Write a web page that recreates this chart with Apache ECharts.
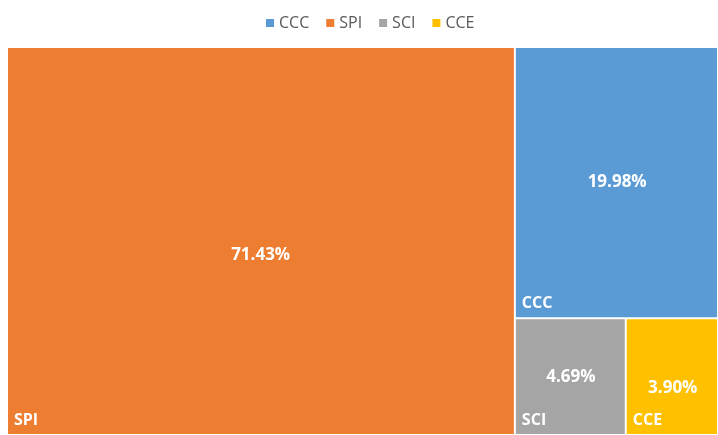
<!DOCTYPE html>
<html>
<head>
<meta charset="utf-8">
<script src="https://cdn.jsdelivr.net/npm/echarts@6/dist/echarts.min.js"></script>
<style>
  html, body { margin: 0; padding: 0; background: #fff; }
  #main { width: 718px; height: 435px; }
</style>
</head>
<body>
<div id="main"></div>
<script>
var names = ['CCC', 'SPI', 'SCI', 'CCE'];
var values = [19.98, 71.43, 4.69, 3.90];
var colors = ['#5B9BD5', '#ED7D31', '#A5A5A5', '#FFC000'];

var myChart = echarts.init(document.getElementById('main'));

var labelFont = 'Open Sans, Noto Sans, sans-serif';

var base = {
    type: 'treemap',
    left: 6,
    top: 46,
    right: -1,
    bottom: -1,
    roam: false,
    nodeClick: false,
    breadcrumb: { show: false },
    squareRatio: 1,
    animation: false
};

// value labels sit a bit low in the original for SPI and CCE
var valueOffset = { SPI: [0, 14], CCE: [0, 11] };

var option = {
    legend: {
        top: 10,
        left: 261,
        icon: 'rect',
        itemWidth: 8,
        itemHeight: 8,
        itemGap: 17,
        data: names,
        textStyle: { color: '#595959', fontSize: 16, fontFamily: labelFont }
    },
    series: [
        Object.assign({}, base, {
            data: names.map(function (n, i) {
                return { name: n, value: values[i], itemStyle: { color: colors[i] } };
            }),
            itemStyle: { borderColor: '#fff', borderWidth: 1, gapWidth: 0 },
            label: {
                show: true,
                position: 'insideBottomLeft',
                distance: 6,
                padding: 0,
                color: '#fff',
                fontSize: 16,
                fontWeight: 'bold',
                fontFamily: labelFont,
                formatter: '{b}'
            }
        }),
        Object.assign({}, base, {
            silent: true,
            data: names.map(function (n, i) {
                return {
                    name: n,
                    value: values[i],
                    itemStyle: { color: 'transparent' },
                    label: { offset: valueOffset[n] || [0, 0] }
                };
            }),
            itemStyle: { borderWidth: 0, gapWidth: 0 },
            label: {
                show: true,
                position: 'inside',
                padding: 0,
                color: '#fff',
                fontSize: 17,
                fontWeight: 'bold',
                fontFamily: labelFont,
                formatter: function (p) { return p.value.toFixed(2) + '%'; }
            }
        }),
        {
            // legend-only series, nothing drawn
            type: 'pie',
            radius: [0, 0],
            silent: true,
            label: { show: false },
            data: names.map(function (n, i) {
                return { name: n, value: values[i], itemStyle: { color: colors[i] } };
            })
        }
    ]
};
myChart.setOption(option);
</script>
</body>
</html>
